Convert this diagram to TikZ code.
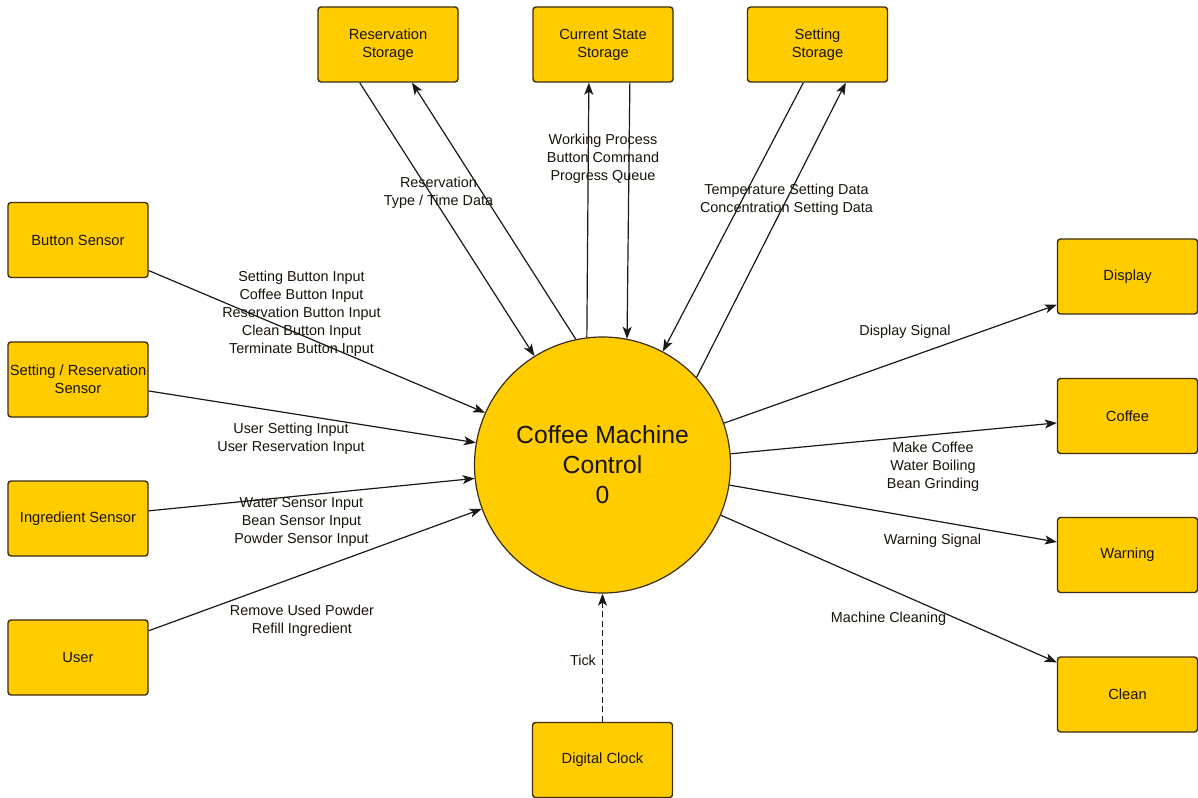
\documentclass[tikz,border=0pt]{standalone}
\usepackage{fontspec}
\setmainfont{Liberation Sans}
\usetikzlibrary{arrows.meta,calc}
\definecolor{boxfill}{RGB}{255,204,0}
\definecolor{boxline}{RGB}{60,45,20}
\definecolor{txt}{RGB}{25,20,10}
\tikzset{
  x=1pt,y=-1pt,
  procbox/.style={draw=boxline,line width=1.4pt,fill=boxfill,rounded corners=3pt,
    minimum width=140pt,minimum height=75pt,inner sep=0pt,align=center,
    font=\fontsize{14.7}{18}\selectfont,text=txt},
  proc/.style={draw=boxline,line width=1.2pt,fill=boxfill,circle,minimum size=256pt,
    inner sep=0pt,align=center,font=\fontsize{24.7}{30}\selectfont,text=txt},
  flow/.style={draw=black!90,line width=1.2pt,-{Stealth[length=12pt,width=9pt,inset=3pt]}},
  lbl/.style={align=center,font=\fontsize{14.4}{18}\selectfont,text=txt,inner sep=0pt,yshift=-2pt}
}
\begin{document}
\begin{tikzpicture}
\useasboundingbox (0,0) rectangle (1198,797);
\fill[white] (0,0) rectangle (1198,797);

% central process
\node[proc] (cmc) at (602.5,465) {Coffee Machine\\Control\\0};

% top storages
\node[procbox] (rs) at (388,44.5) {Reservation\\Storage};
\node[procbox] (cs) at (603,44.5) {Current State\\Storage};
\node[procbox] (ss) at (817.5,44.5) {Setting\\Storage};

% left sources
\node[procbox] (bs) at (78,240) {Button Sensor};
\node[procbox] (sr) at (78,379.5) {Setting / Reservation\\Sensor};
\node[procbox] (is) at (78,518.5) {Ingredient Sensor};
\node[procbox] (us) at (78,657.5) {User};

% right sinks
\node[procbox] (dp) at (1127.5,276.5) {Display};
\node[procbox] (cf) at (1127.5,416) {Coffee};
\node[procbox] (wn) at (1127.5,555) {Warning};
\node[procbox] (cl) at (1127.5,694.5) {Clean};

% bottom
\node[procbox] (dc) at (602.5,760) {Digital Clock};

% storage flows
\draw[flow] ($(rs.south west)!0.30!(rs.south east)$) -- (cmc.122);
\draw[flow] (cmc.102) -- ($(rs.south west)!0.67!(rs.south east)$);
\draw[flow] (cmc.97) -- ($(cs.south west)!0.40!(cs.south east)$);
\draw[flow] ($(cs.south west)!0.69!(cs.south east)$) -- (cmc.79);
\draw[flow] ($(ss.south west)!0.40!(ss.south east)$) -- (cmc.62);
\draw[flow] (cmc.43) -- ($(ss.south west)!0.70!(ss.south east)$);

% inputs
\draw[flow] ($(bs.north east)!0.90!(bs.south east)$) -- (cmc.156.5);
\draw[flow] ($(sr.north east)!0.65!(sr.south east)$) -- (cmc.170.2);
\draw[flow] ($(is.north east)!0.40!(is.south east)$) -- (cmc.186.2);
\draw[flow] ($(us.north east)!0.15!(us.south east)$) -- (cmc.200.5);

% outputs
\draw[flow] (cmc.19.8) -- ($(dp.north west)!0.87!(dp.south west)$);
\draw[flow] (cmc.5.3) -- ($(cf.north west)!0.59!(cf.south west)$);
\draw[flow] (cmc.-9.8) -- ($(wn.north west)!0.33!(wn.south west)$);
\draw[flow] (cmc.-23.9) -- ($(cl.north west)!0.08!(cl.south west)$);

% clock
\draw[flow,dash pattern=on 6pt off 3.5pt] (dc.north) -- (cmc.south);

% labels
\node[lbl] (l1) at (438.5,191) {Reservation\\Type / Time Data};
\node[lbl] (l2) at (603,157) {Working Process\\Button Command\\Progress Queue};
\node[lbl] (l3) at (786.5,198) {Temperature Setting Data\\Concentration Setting Data};
\node[lbl] (l4) at (301.5,311.5) {Setting Button Input\\Coffee Button Input\\Reservation Button Input\\Clean Button Input\\Terminate Button Input};
\node[lbl] (l5) at (291,437) {User Setting Input\\User Reservation Input};
\node[lbl] (l6) at (301.5,520) {Water Sensor Input\\Bean Sensor Input\\Powder Sensor Input};
\node[lbl] (l7) at (302,618.5) {Remove Used Powder\\Refill Ingredient};
\node[lbl] (l8) at (905,330) {Display Signal};
\node[lbl] (l9) at (933,464.5) {Make Coffee\\Water Boiling\\Bean Grinding};
\node[lbl] (l10) at (932.5,539) {Warning Signal};
\node[lbl] (l11) at (888.5,617) {Machine Cleaning};
\node[lbl] (l12) at (583,658) {Tick};
\end{tikzpicture}
\end{document}
